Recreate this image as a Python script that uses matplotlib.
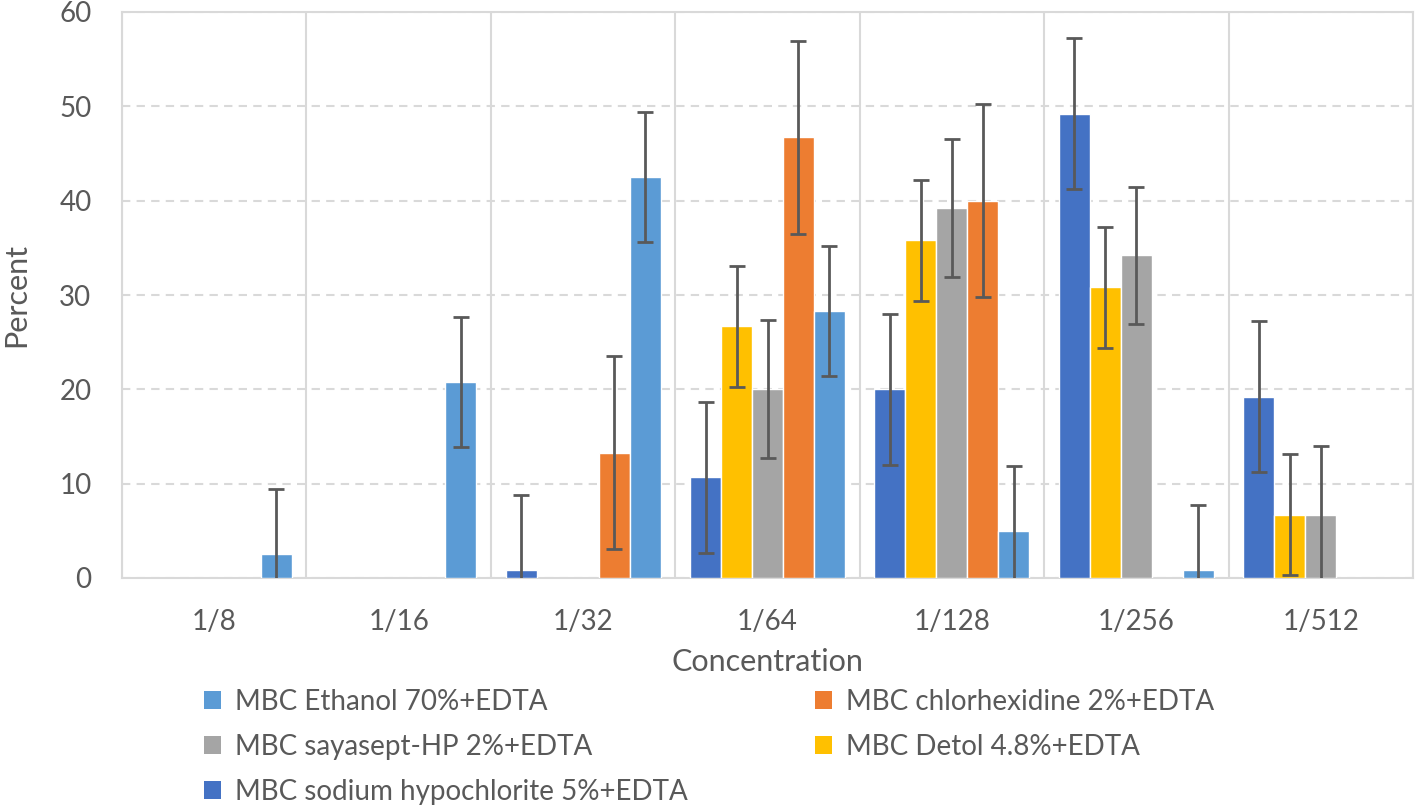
import numpy as np
import matplotlib
matplotlib.use("Agg")
import matplotlib.pyplot as plt
from matplotlib.patches import Patch

categories = ['1/8', '1/16', '1/32', '1/64', '1/128', '1/256', '1/512']
nan = np.nan
sodium = [nan, nan, 0.8, 10.7, 20.0, 49.2, 19.2]
detol = [nan, nan, nan, 26.7, 35.8, 30.8, 6.7]
sayasept = [nan, nan, nan, 20.0, 39.2, 34.2, 6.7]
chlor = [nan, nan, 13.3, 46.7, 40.0, nan, nan]
ethanol = [2.5, 20.8, 42.5, 28.3, 5.0, 0.8, nan]
err_sodium = 8.0
err_detol = 6.4
err_sayasept = 7.3
err_chlor = 10.2
err_ethanol = 6.9

names = ['MBC sodium hypochlorite 5%+EDTA', 'MBC Detol 4.8%+EDTA',
         'MBC sayasept-HP 2%+EDTA', 'MBC chlorhexidine 2%+EDTA',
         'MBC Ethanol 70%+EDTA']
series = [sodium, detol, sayasept, chlor, ethanol]
errs = [err_sodium, err_detol, err_sayasept, err_chlor, err_ethanol]
colors = ['#4472C4', '#FFC000', '#A5A5A5', '#ED7D31', '#5B9BD5']

plt.rcParams['font.family'] = ['Lato', 'DejaVu Sans']
txt = '#595959'
grid = '#D9D9D9'

fig = plt.figure(figsize=(14.16, 8.08), dpi=100)
ax = fig.add_axes([122/1416, 1-578/808, (1413-122)/1416, (578-12)/808])

x = np.arange(len(categories))
w = 0.168
for j, (vals, e, c) in enumerate(zip(series, errs, colors)):
    v = np.array(vals, dtype=float)
    m = ~np.isnan(v)
    xs = x[m] + (j - 2) * w
    ax.bar(xs, v[m], width=w, color=c, edgecolor='white', linewidth=1, zorder=3)
    ax.errorbar(xs, v[m], yerr=e, fmt='none', ecolor='#595959', elinewidth=2,
                capsize=6, capthick=2, zorder=4)

ax.set_xlim(-0.5, len(categories) - 0.5)
ax.set_ylim(0, 60)
ax.set_yticks(np.arange(0, 61, 10))
ax.set_xticks(x)
ax.set_xticklabels(categories)
ax.set_xticks(np.arange(-0.5, len(categories), 1), minor=True)
ax.grid(axis='y', which='major', color=grid, linestyle=(0, (4, 3)), linewidth=1.5, zorder=0)
ax.grid(axis='x', which='minor', color=grid, linestyle='-', linewidth=1.5, zorder=0)
ax.grid(axis='x', which='major', visible=False)
ax.tick_params(which='both', length=0)
ax.tick_params(axis='y', pad=22, labelsize=20, labelcolor=txt)
ax.tick_params(axis='x', pad=22, labelsize=20, labelcolor=txt)
for s in ax.spines.values():
    s.set_color(grid)
    s.set_linewidth(1.5)

ax.set_ylabel('Percent', fontsize=22, color=txt, labelpad=21)
ax.set_xlabel('Concentration', fontsize=22, color=txt, labelpad=10)

order = [4, 2, 0, 3, 1]
handles = [Patch(facecolor=colors[i], edgecolor='none') for i in order]
labels = [names[i] for i in order]
fig.legend(handles, labels, loc='upper left', bbox_to_anchor=(204/1416, 1-689/808),
           ncol=2, frameon=False, fontsize=20, labelcolor=txt,
           handlelength=0.6, handleheight=0.6, handletextpad=0.5,
           columnspacing=4.6, labelspacing=0.68, borderpad=0, borderaxespad=0)

fig.savefig('out.png', dpi=100)
